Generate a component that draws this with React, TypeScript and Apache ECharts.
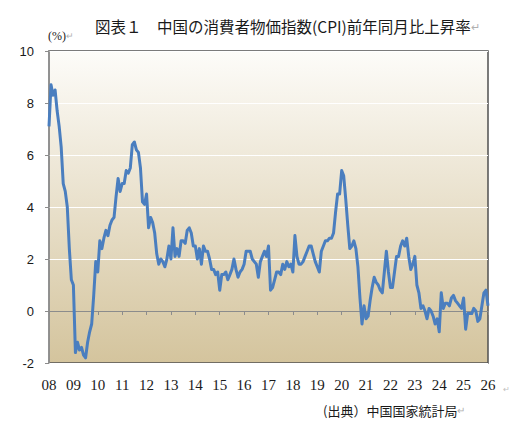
import React, { useEffect, useRef } from 'react';
import * as echarts from 'echarts';

// 年ラベル（横軸）
const yearLabels = ['08', '09', '10', '11', '12', '13', '14', '15', '16', '17', '18', '19', '20', '21', '22', '23', '24', '25', '26'];

// 中国CPI前年同月比（%）
const cpi2008 = [7.1, 8.7, 8.3, 8.5, 7.7, 7.1, 6.3, 4.9, 4.6, 4.0, 2.4, 1.2];
const cpi2009 = [1.0, -1.6, -1.2, -1.5, -1.4, -1.7, -1.8, -1.2, -0.8, -0.5, 0.6, 1.9];
const cpi2010 = [1.5, 2.7, 2.4, 2.8, 3.1, 2.9, 3.3, 3.5, 3.6, 4.4, 5.1, 4.6];
const cpi2011 = [4.9, 4.9, 5.4, 5.3, 5.5, 6.4, 6.5, 6.2, 6.1, 5.5, 4.2, 4.1];
const cpi2012 = [4.5, 3.2, 3.6, 3.4, 3.0, 2.2, 1.8, 2.0, 1.9, 1.7, 2.0, 2.5];
const cpi2013 = [2.0, 3.2, 2.1, 2.4, 2.1, 2.7, 2.7, 2.6, 3.1, 3.2, 3.0, 2.5];
const cpi2014 = [2.5, 2.0, 2.4, 1.8, 2.5, 2.3, 2.3, 2.0, 1.6, 1.6, 1.4, 1.5];
const cpi2015 = [0.8, 1.4, 1.4, 1.5, 1.2, 1.4, 1.6, 2.0, 1.6, 1.3, 1.5, 1.6];
const cpi2016 = [1.8, 2.3, 2.3, 2.3, 2.0, 1.9, 1.8, 1.3, 1.9, 2.1, 2.3, 2.1];
const cpi2017 = [2.5, 0.8, 0.9, 1.2, 1.5, 1.5, 1.4, 1.8, 1.6, 1.9, 1.7, 1.8];
const cpi2018 = [1.5, 2.9, 2.1, 1.8, 1.8, 1.9, 2.1, 2.3, 2.5, 2.5, 2.2, 1.9];
const cpi2019 = [1.7, 1.5, 2.3, 2.5, 2.7, 2.7, 2.8, 2.8, 3.0, 3.8, 4.5, 4.5];
const cpi2020 = [5.4, 5.2, 4.3, 3.3, 2.4, 2.5, 2.7, 2.4, 1.7, 0.5, -0.5, 0.2];
const cpi2021 = [-0.3, -0.2, 0.4, 0.9, 1.3, 1.1, 1.0, 0.8, 0.7, 1.5, 2.3, 1.5];
const cpi2022 = [0.9, 0.9, 1.5, 2.1, 2.1, 2.5, 2.7, 2.5, 2.8, 2.1, 1.6, 1.8];
const cpi2023 = [2.1, 1.0, 0.7, 0.1, 0.2, 0.0, -0.3, 0.1, 0.0, -0.2, -0.5, -0.3];
const cpi2024 = [-0.8, 0.7, 0.1, 0.3, 0.3, 0.2, 0.5, 0.6, 0.4, 0.3, 0.2, 0.1];
const cpi2025 = [0.5, -0.7, -0.1, -0.1, -0.1, 0.1, 0.0, -0.4, -0.3, 0.2, 0.7, 0.8];
const cpi2026 = [0.2];

const cpiValues = [
  ...cpi2008, ...cpi2009, ...cpi2010, ...cpi2011, ...cpi2012, ...cpi2013,
  ...cpi2014, ...cpi2015, ...cpi2016, ...cpi2017, ...cpi2018, ...cpi2019,
  ...cpi2020, ...cpi2021, ...cpi2022, ...cpi2023, ...cpi2024, ...cpi2025,
  ...cpi2026
];

const months = cpiValues.map((_, i) => `${yearLabels[Math.floor(i / 12)]}/${(i % 12) + 1}`);

const isYearStart = (index: number) => index % 12 === 0;

const App: React.FC = () => {
  const chartRef = useRef<HTMLDivElement>(null);

  useEffect(() => {
    if (!chartRef.current) return;
    const chart = echarts.init(chartRef.current, undefined, { renderer: 'svg' });

    chart.setOption({
      animation: false,
      backgroundColor: '#ffffff',
      title: {
        text: '図表１　中国の消費者物価指数(CPI)前年同月比上昇率{r|↵}',
        left: 90,
        top: 13,
        textStyle: {
          fontFamily: '"Noto Sans CJK JP", sans-serif',
          fontSize: 15.5,
          fontWeight: 'normal',
          color: '#1a1a1a',
          rich: { r: { color: '#b0b0b0', fontSize: 11 } }
        }
      },
      grid: {
        left: 49,
        right: 23,
        top: 51,
        bottom: 72,
        show: true,
        borderColor: '#505050',
        borderWidth: 1.5,
        backgroundColor: new echarts.graphic.LinearGradient(0, 0, 0, 1, [
          { offset: 0, color: '#fdfcf9' },
          { offset: 1, color: '#d4c49d' }
        ])
      },
      xAxis: [
        {
          type: 'category',
          data: months,
          boundaryGap: false,
          position: 'bottom',
          axisLine: { onZero: true, lineStyle: { color: '#8c8c8c', width: 1 } },
          axisTick: { show: true, interval: isYearStart, length: 4, lineStyle: { color: '#8c8c8c' } },
          axisLabel: { show: false },
          splitLine: { show: false }
        },
        {
          type: 'category',
          data: months,
          boundaryGap: false,
          position: 'bottom',
          axisLine: { show: false, onZero: false },
          axisTick: { show: false },
          axisLabel: {
            interval: isYearStart,
            margin: 14,
            formatter: (_v: string, index: number) => yearLabels[index / 12] ?? '',
            fontFamily: '"Liberation Serif", serif',
            fontSize: 15,
            color: '#1a1a1a'
          },
          splitLine: { show: false }
        }
      ],
      yAxis: {
        type: 'value',
        min: -2,
        max: 10,
        interval: 2,
        axisLine: { show: true, lineStyle: { color: '#9a9a9a', width: 1.5 } },
        axisTick: { show: true, length: 4, lineStyle: { color: '#8c8c8c' } },
        axisLabel: {
          margin: 15,
          fontFamily: '"Liberation Sans", sans-serif',
          fontSize: 13,
          color: '#1a1a1a'
        },
        splitLine: { show: true, lineStyle: { color: '#ffffff', width: 1 } }
      },
      series: [
        {
          type: 'line',
          xAxisIndex: 0,
          data: cpiValues,
          symbol: 'none',
          smooth: false,
          lineStyle: { color: '#4a7ebf', width: 3, join: 'round' },
          z: 5
        }
      ],
      graphic: [
        {
          type: 'text',
          left: 48,
          top: 30,
          style: {
            text: '(%){r|↵}',
            font: '12px "Liberation Serif", serif',
            fill: '#1a1a1a',
            rich: { r: { fill: '#b0b0b0', fontSize: 9 } }
          }
        },
        {
          type: 'text',
          left: 323,
          top: 404,
          style: {
            text: '(出典）中国国家統計局{r|↵}',
            font: '13px "Noto Sans CJK JP", sans-serif',
            fill: '#1a1a1a',
            rich: { r: { fill: '#b0b0b0', fontSize: 10 } }
          }
        },
        {
          type: 'text',
          left: 503,
          top: 385,
          style: { text: '↵', font: '8px sans-serif', fill: '#c0c0c0' }
        }
      ]
    });

    return () => {
      chart.dispose();
    };
  }, []);

  return (
    <div
      ref={chartRef}
      style={{ position: 'fixed', left: 0, top: 0, width: 511, height: 435 }}
    />
  );
};

export default App;
